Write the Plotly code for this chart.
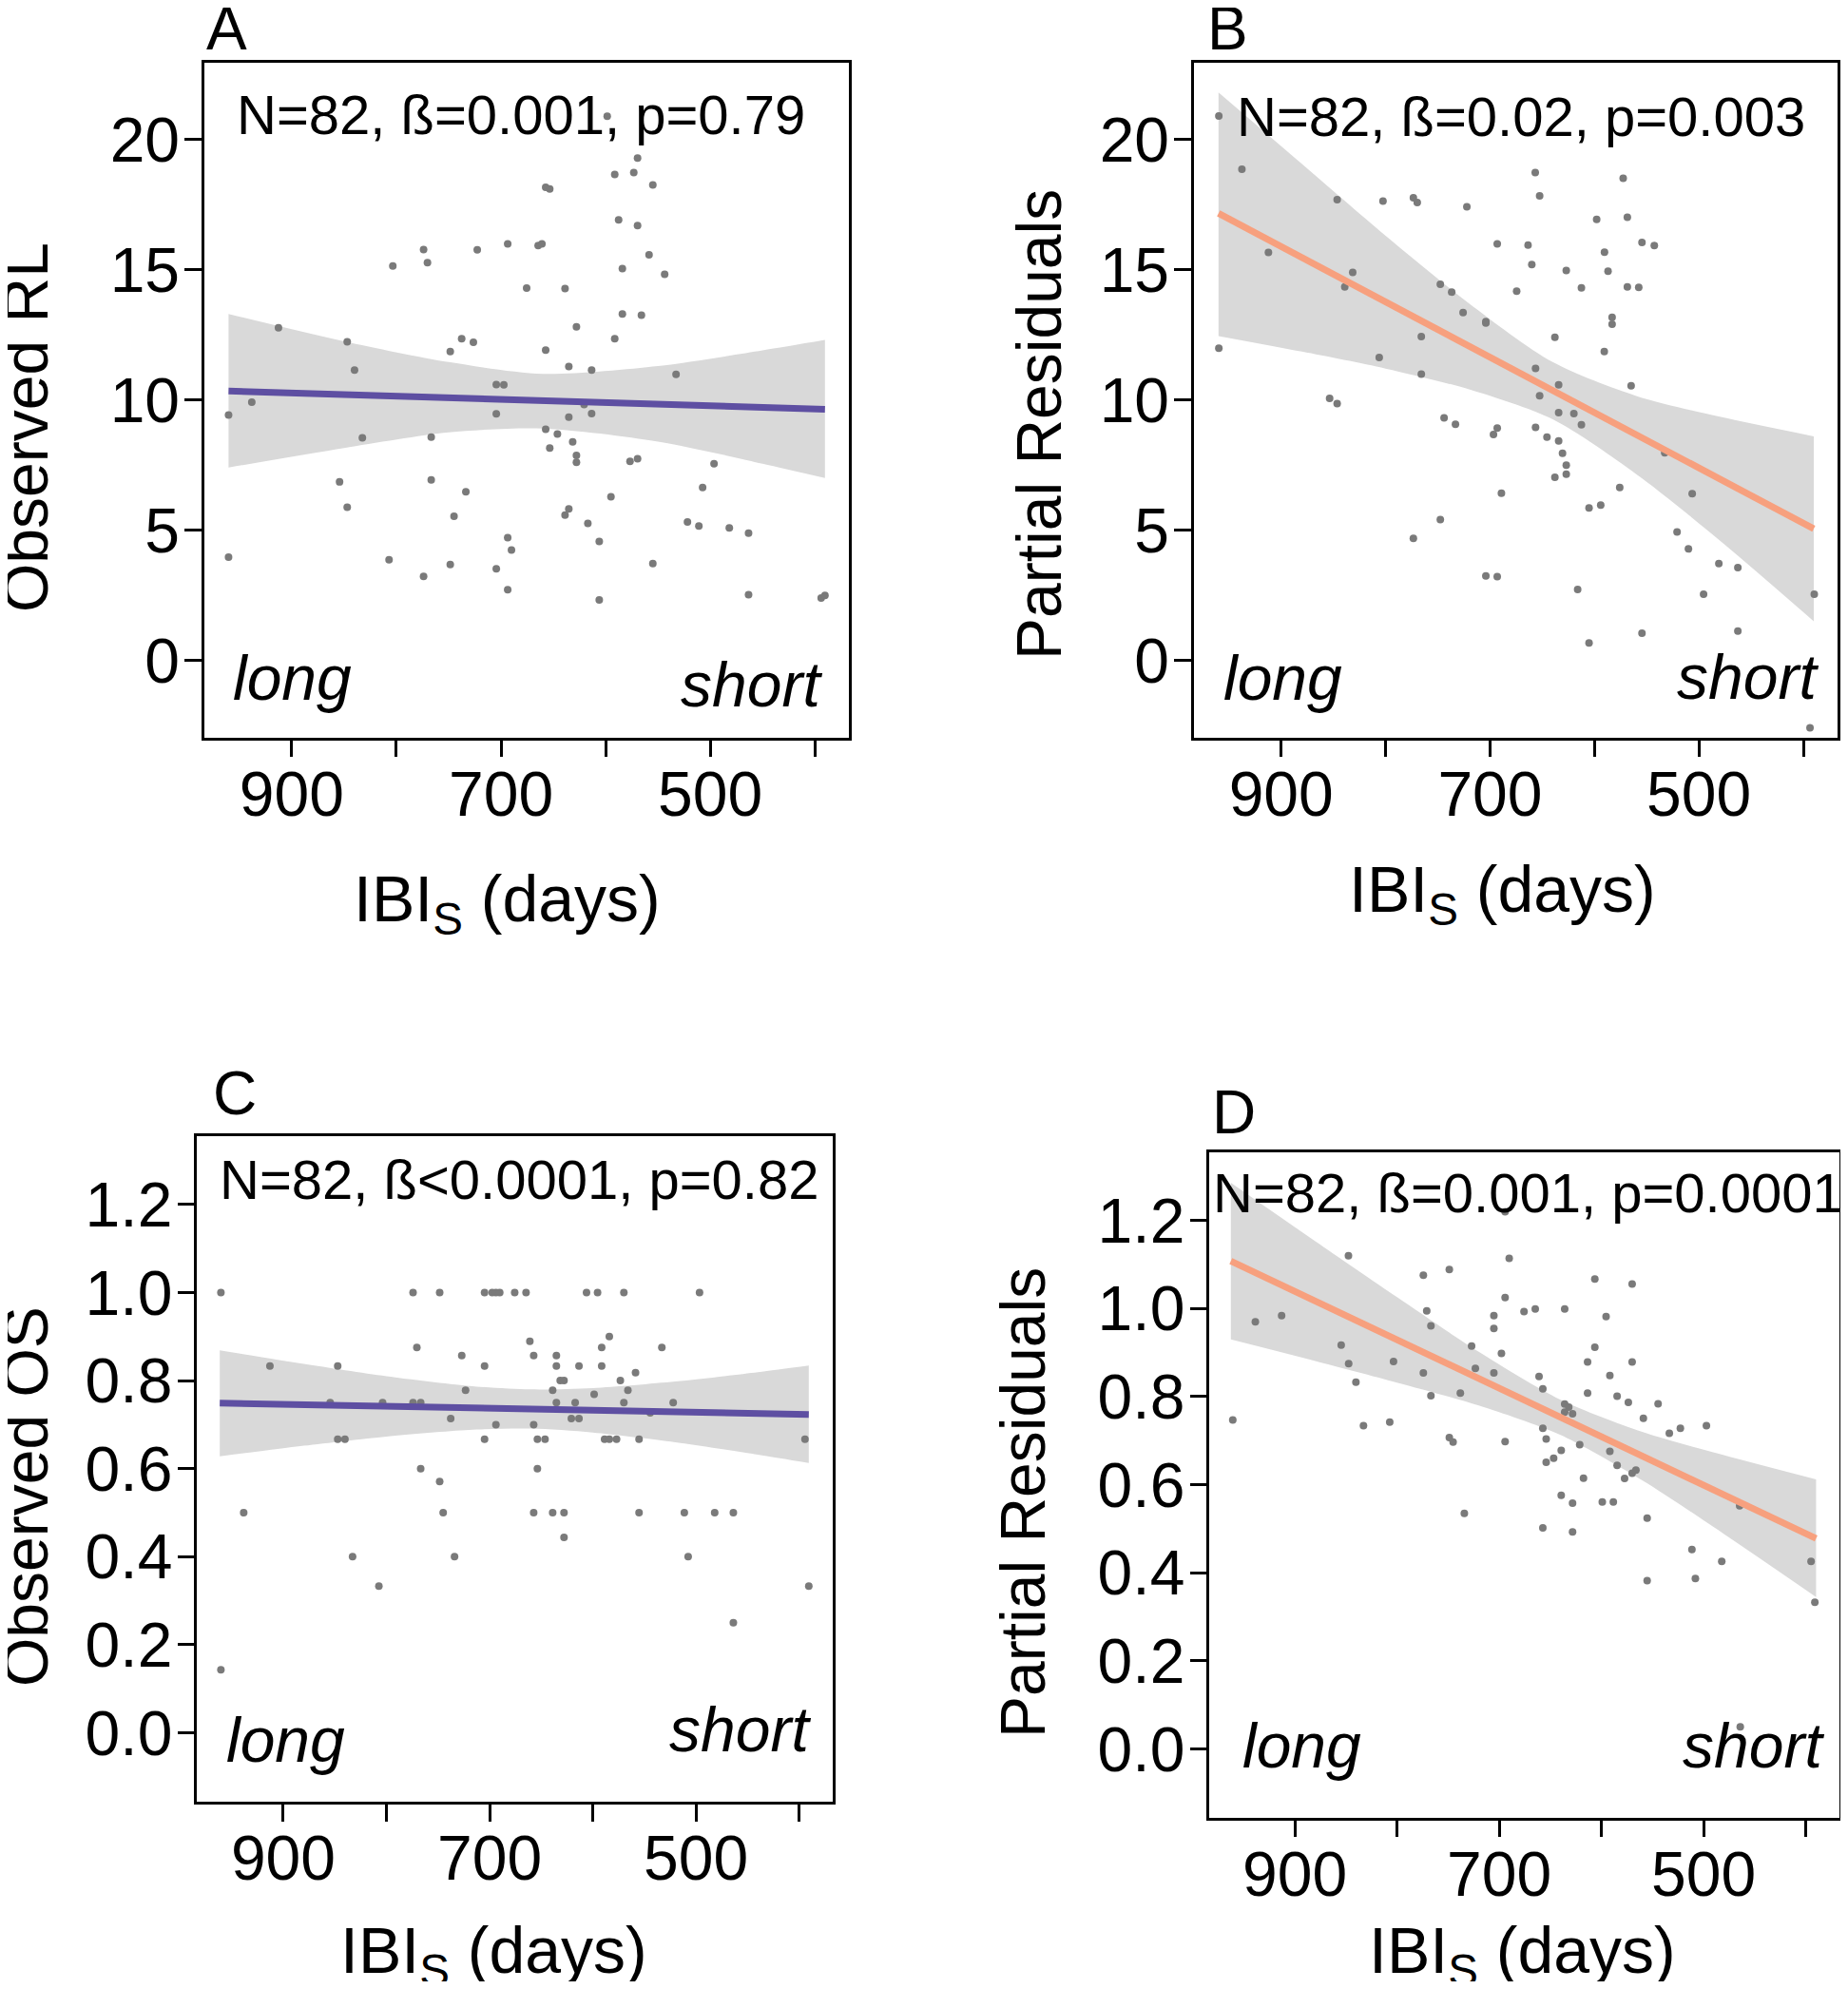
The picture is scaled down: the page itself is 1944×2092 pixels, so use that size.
import plotly.graph_objects as go

W, H = 1944, 2092
OFF = 8  # default page margin of the html body

# ---------------- data ----------------
# Panel A: observed RL vs IBI_S
A_x = [774.0, 722.7, 693.6, 803.4, 770.3, 675.5, 912.7, 847.0, 737.6, 726.4, 748.5, 840.0,
       704.5, 697.3, 938.2, 960.4, 704.5, 832.5, 766.7, 854.3, 766.7, 733.6, 847.0, 744.9,
       693.6, 690.0, 960.4, 807.0, 748.5, 774.0, 704.5, 693.6,
       598.5, 569.5, 591.3, 573.1, 554.9, 657.3, 653.4, 587.6, 569.5, 664.5, 660.9, 558.5,
       584.0, 543.6, 638.8, 584.0, 565.8, 627.9, 591.3, 657.3, 635.2, 613.4, 532.7, 635.2,
       613.4, 657.3, 646.1, 631.5, 653.4, 627.9, 627.9, 576.7, 569.5, 496.4, 507.3, 594.9,
       635.2, 638.8, 617.0, 521.8, 510.9, 481.8, 463.4, 606.1, 554.9, 606.1, 463.4, 394.0,
       390.4, 620.6]
A_y = [15.77, 15.76, 15.99, 15.14, 15.27, 14.29, 12.77, 12.23, 12.35, 12.21, 11.85, 11.14,
       10.59, 10.58, 9.91, 9.42, 9.46, 8.54, 8.57, 6.85, 6.93, 6.47, 5.88, 5.53,
       4.71, 4.23, 3.96, 3.86, 3.68, 3.22, 3.51, 2.71,
       20.89, 19.28, 18.65, 18.73, 18.25, 18.16, 18.10, 16.91, 16.69, 15.92, 15.99, 15.57,
       15.04, 14.82, 14.27, 13.30, 13.25, 12.80, 12.35, 11.91, 11.28, 11.14, 10.98, 9.34,
       9.47, 8.87, 8.69, 8.39, 8.15, 7.87, 7.60, 7.64, 7.74, 7.55, 6.63, 6.28,
       5.81, 5.58, 5.26, 5.31, 5.16, 5.08, 4.88, 4.56, 3.71, 2.32, 2.52, 2.39,
       2.49, 9.82]
A_fit_x = [960.4, 390.4]
A_fit_y = [10.34, 9.64]
A_band_x = [960.4, 850, 750, 660, 550, 450, 390.4]
A_band_hi = [13.3, 12.25, 11.45, 11.0, 11.3, 11.9, 12.3]
A_band_lo = [7.4, 8.15, 8.75, 8.9, 8.4, 7.55, 7.0]

# Panel B: partial residuals (RL)
B_x = [959.7, 937.6, 846.4, 802.5, 773.4, 769.7, 722.2, 693.1, 912.2, 831.5, 839.1, 747.6,
       736.7, 674.5, 725.8, 704.0, 704.0, 765.8, 959.7, 806.1, 765.8, 853.6, 846.4, 744.0,
       733.1, 693.1, 696.7, 689.1, 747.6, 773.4, 704.0, 693.1,
       656.7, 572.5, 652.5, 597.9, 568.5, 663.6, 554.5, 542.7, 590.4, 660.0, 627.0, 587.0,
       612.5, 568.5, 557.6, 583.1, 583.1, 637.9, 590.6, 656.4, 634.3, 564.9, 652.5, 634.3,
       619.7, 612.5, 656.4, 645.5, 634.3, 630.6, 627.0, 627.0, 637.9, 532.7, 575.8, 506.4,
       605.2, 594.0, 520.9, 510.0, 480.9, 462.7, 616.1, 495.5, 389.5, 605.2, 554.5, 462.7,
       393.6]
B_y = [20.90, 18.85, 17.69, 17.63, 17.76, 17.58, 17.41, 15.99, 15.66, 14.89, 14.34, 14.44,
       14.14, 14.17, 13.35, 13.00, 12.95, 12.43, 11.98, 11.63, 10.99, 10.06, 9.86, 9.31,
       9.06, 8.92, 8.67, 6.42, 5.40, 4.68, 3.24, 3.21,
       18.73, 18.51, 17.83, 16.93, 17.01, 15.94, 16.04, 15.92, 15.67, 15.19, 14.97, 14.94,
       14.30, 14.34, 14.32, 13.17, 12.90, 12.40, 11.85, 11.21, 10.58, 10.54, 10.16, 9.51,
       9.47, 9.04, 8.94, 8.57, 8.42, 7.95, 7.49, 7.15, 7.03, 7.97, 6.63, 6.40,
       5.85, 5.96, 4.93, 4.28, 3.71, 3.56, 2.72, 2.54, 2.54, 0.67, 1.04, 1.12,
       -2.59]
B_fit_x = [960.0, 390.0]
B_fit_y = [17.16, 5.05]
B_band_x = [960, 880, 800, 720, 640, 560, 480, 390]
B_band_hi = [21.8, 19.05, 16.3, 13.7, 11.45, 10.15, 9.35, 8.6]
B_band_lo = [12.45, 11.85, 11.2, 10.4, 9.25, 7.15, 4.6, 1.5]

# Panel C: observed OS
C_x = [960.4, 774.2, 748.4, 704.9, 697.5, 693.9, 690.2, 675.7, 770.5, 727.0, 912.9, 847.2,
       704.9, 723.3, 854.5, 803.7, 774.2, 766.8, 737.7, 693.9, 847.2, 840.2, 704.9, 766.8,
       748.4, 938.3, 745.0, 832.8, 734.0, 807.3, 960.4,
       664.7, 606.1, 595.4, 569.9, 496.6, 584.0, 661.0, 591.4, 533.1, 657.3, 635.3, 635.3,
       613.4, 591.4, 558.6, 631.6, 627.9, 573.3, 638.9, 566.0, 598.7, 635.3, 617.1, 569.9,
       522.1, 544.4, 620.8, 613.4, 657.3, 653.7, 646.3, 588.6, 584.0, 577.0, 555.2, 394.4,
       653.7, 657.3, 638.9, 627.9, 555.2, 511.3, 481.9, 463.8, 627.9, 507.6, 390.7, 463.8]
C_y = [1.0, 1.0, 1.0, 1.0, 1.0, 1.0, 1.0, 1.0, 0.875, 0.857, 0.833, 0.833,
       0.833, 0.778, 0.75, 0.75, 0.75, 0.75, 0.714, 0.70, 0.667, 0.667, 0.667, 0.60,
       0.571, 0.5, 0.5, 0.4, 0.4, 0.333, 0.143,
       1.0, 1.0, 1.0, 1.0, 1.0, 0.9, 0.889, 0.875, 0.875, 0.857, 0.857, 0.833,
       0.833, 0.833, 0.818, 0.8, 0.8, 0.8, 0.778, 0.778, 0.769, 0.75, 0.75, 0.75,
       0.75, 0.727, 0.714, 0.714, 0.70, 0.667, 0.667, 0.667, 0.667, 0.667, 0.667, 0.667,
       0.6, 0.5, 0.5, 0.5, 0.5, 0.5, 0.5, 0.5, 0.444, 0.4, 0.333, 0.25]
C_fit_x = [961.5, 390.7]
C_fit_y = [0.749, 0.723]
C_band_x = [961.5, 880, 800, 720, 660, 600, 520, 440, 390.7]
C_band_hi = [0.869, 0.838, 0.810, 0.788, 0.780, 0.783, 0.798, 0.819, 0.834]
C_band_lo = [0.628, 0.652, 0.673, 0.688, 0.691, 0.682, 0.660, 0.632, 0.613]

# Panel D: partial residuals (OS)
D_x = [694.2, 847.5, 690.2, 774.2, 748.8, 694.2, 770.9, 675.7, 938.6, 912.9, 705.2, 705.2,
       766.8, 854.6, 727.0, 697.8, 847.3, 803.4, 723.3, 705.2, 774.2, 840.2, 738.0, 766.8,
       960.7, 832.8, 807.1, 748.8, 745.1, 694.2, 734.1,
       606.4, 569.9, 664.7, 635.9, 595.4, 606.4, 613.5, 569.9, 661.0, 591.7, 657.3, 613.5,
       584.6, 573.6, 544.5, 635.9, 631.9, 635.9, 628.2, 558.9, 657.3, 654.0, 621.2, 533.5,
       522.7, 497.2, 639.3, 646.7, 654.0, 591.7, 584.6, 577.3, 569.9, 566.2, 617.5, 639.3,
       628.2, 599.1, 588.3, 555.2, 657.3, 628.2, 464.7, 511.4, 482.2, 508.0, 555.2, 394.8,
       391.1, 464.1]
D_y = [1.220, 1.120, 1.114, 1.076, 1.089, 1.025, 0.995, 0.993, 0.970, 0.984, 0.984, 0.955,
       0.961, 0.917, 0.915, 0.898, 0.875, 0.880, 0.864, 0.854, 0.854, 0.833, 0.808, 0.802,
       0.747, 0.734, 0.742, 0.707, 0.697, 0.698, 0.535,
       1.067, 1.056, 0.999, 0.999, 0.982, 0.912, 0.879, 0.879, 0.846, 0.848, 0.818, 0.808,
       0.801, 0.787, 0.784, 0.783, 0.776, 0.765, 0.761, 0.751, 0.728, 0.704, 0.691, 0.717,
       0.728, 0.734, 0.678, 0.660, 0.651, 0.676, 0.644, 0.614, 0.626, 0.633, 0.615, 0.576,
       0.558, 0.561, 0.561, 0.524, 0.502, 0.493, 0.552, 0.453, 0.426, 0.387, 0.382, 0.426,
       0.333, 0.050]
D_fit_x = [962.6, 389.9]
D_fit_y = [1.108, 0.478]
D_band_x = [962.6, 880, 800, 720, 640, 560, 480, 389.9]
D_band_hi = [1.286, 1.153, 1.026, 0.902, 0.793, 0.720, 0.667, 0.612]
D_band_lo = [0.930, 0.881, 0.832, 0.780, 0.713, 0.610, 0.488, 0.345]

x_major_ticks = [900, 700, 500]
x_minor_ticks = [800, 600, 400]
rl_ticks = [0, 5, 10, 15, 20]
os_ticks = [0.0, 0.2, 0.4, 0.6, 0.8, 1.0, 1.2]

panel_letters = ["A", "B", "C", "D"]
y_titles = ["Observed RL", "Partial Residuals", "Observed OS", "Partial Residuals"]
stats_text = ["N=82, ß=0.001, p=0.79", "N=82, ß=0.02, p=0.003",
              "N=82, ß<0.0001, p=0.82", "N=82, ß=0.001, p=0.0001"]
x_title = "IBI<sub>S</sub> (days)"

# ---------------- styling ----------------
BLUE = "#5E4FA2"
SALMON = "#F7A07E"
PT = "#7A7A7A"
BAND = "#D9D9D9"
SANS = "Liberation Sans, Arial, Helvetica, sans-serif"

FW, FH = W - 2 * OFF, H - 2 * OFF

def clamp(v):
    return max(0.0, min(1.0, v))

def px(x):
    return (x - OFF) / FW

def py(y):
    return 1 - (y - OFF) / FH

panels = [
    dict(x=A_x, y=A_y, fx=A_fit_x, fy=A_fit_y, bx=A_band_x, bh=A_band_hi, bl=A_band_lo,
         col=BLUE, xd=[215, 893], yd=[65.5, 775.6], yr=[-2.96, 22.96], yt=rl_ticks, fmt=""),
    dict(x=B_x, y=B_y, fx=B_fit_x, fy=B_fit_y, bx=B_band_x, bh=B_band_hi, bl=B_band_lo,
         col=SALMON, xd=[1256, 1932.7], yd=[65.5, 775.6], yr=[-2.96, 22.96], yt=rl_ticks, fmt=""),
    dict(x=C_x, y=C_y, fx=C_fit_x, fy=C_fit_y, bx=C_band_x, bh=C_band_hi, bl=C_band_lo,
         col=BLUE, xd=[207.3, 876], yd=[1194.6, 1894.8], yr=[-0.156, 1.356], yt=os_ticks, fmt=".1f"),
    dict(x=D_x, y=D_y, fx=D_fit_x, fy=D_fit_y, bx=D_band_x, bh=D_band_hi, bl=D_band_lo,
         col=SALMON, xd=[1272.3, 1934.5], yd=[1211.5, 1911.7], yr=[-0.156, 1.356], yt=os_ticks, fmt=".1f"),
]

fig = go.Figure()
layout = dict(width=FW, height=FH, margin=dict(l=0, r=0, t=0, b=0), autosize=False,
              paper_bgcolor="white", plot_bgcolor="white", showlegend=False,
              font=dict(family=SANS, color="black"))

for i, p in enumerate(panels):
    n = "" if i == 0 else str(i + 1)
    xa, ya = "x" + n, "y" + n
    # confidence band
    fig.add_trace(go.Scatter(x=p["bx"], y=p["bl"], xaxis=xa, yaxis=ya, mode="lines",
                             line=dict(width=0, shape="spline", smoothing=0.8),
                             hoverinfo="skip"))
    fig.add_trace(go.Scatter(x=p["bx"], y=p["bh"], xaxis=xa, yaxis=ya, mode="lines",
                             line=dict(width=0, shape="spline", smoothing=0.8),
                             fill="tonexty", fillcolor=BAND, hoverinfo="skip"))
    # points
    fig.add_trace(go.Scatter(x=p["x"], y=p["y"], xaxis=xa, yaxis=ya, mode="markers",
                             marker=dict(size=8, color=PT, line=dict(width=0))))
    # fitted line
    fig.add_trace(go.Scatter(x=p["fx"], y=p["fy"], xaxis=xa, yaxis=ya, mode="lines",
                             line=dict(color=p["col"], width=7)))
    layout["xaxis" + n] = dict(
        domain=[clamp(px(p["xd"][0])), clamp(px(p["xd"][1]))], anchor=ya, range=[983.5, 367.5],
        tickmode="array", tickvals=x_major_ticks,
        ticks="outside", ticklen=18, tickwidth=2.5, tickcolor="black",
        minor=dict(tickmode="array", tickvals=x_minor_ticks, ticks="outside",
                   ticklen=18, tickwidth=2.5, tickcolor="black", showgrid=False),
        tickfont=dict(family=SANS, size=66, color="black"), ticklabelstandoff=-18,
        showline=True, linecolor="black", linewidth=2.5, mirror=True,
        showgrid=False, zeroline=False, automargin=False)
    layout["yaxis" + n] = dict(
        domain=[clamp(py(p["yd"][1])), clamp(py(p["yd"][0]))], anchor=xa, range=p["yr"],
        tickmode="array", tickvals=p["yt"], tickformat=p["fmt"],
        ticks="outside", ticklen=18, tickwidth=2.5, tickcolor="black",
        tickfont=dict(family=SANS, size=66, color="black"), ticklabelstandoff=-8,
        showline=True, linecolor="black", linewidth=2.5, mirror=True,
        showgrid=False, zeroline=False, automargin=False)

ann = []
def add(text, x, y, xa="center", ya="middle", size=64, angle=0):
    ann.append(dict(text=text, x=px(x), y=py(y), xref="paper", yref="paper",
                    xanchor=xa, yanchor=ya, showarrow=False, textangle=angle,
                    font=dict(family=SANS, size=size, color="black")))

# panel letters
for t, (x, y) in zip(panel_letters, [(215, 30), (1268, 30), (222, 1150), (1273, 1170)]):
    add(t, x, y, xa="left", size=64)
# stats
for t, (x, y) in zip(stats_text, [(547.7, 120), (1599.7, 122.7), (545.6, 1240.7), (1607, 1254)]):
    add(t, x, y, size=58)
# long / short
for (x, y) in [(242.8, 713), (1285, 713), (236, 1830), (1305, 1836)]:
    add("<i>long</i>", x, y, xa="left", size=66)
for (x, y) in [(867, 720), (1914.5, 712), (855, 1819), (1921, 1836)]:
    add("<i>short</i>", x, y, xa="right", size=66)
# y titles
for t, (x, y) in zip(y_titles, [(27, 450), (1093, 447), (27, 1574), (1076, 1581)]):
    add(t, x, y, size=66, angle=-90)
# x titles
for (x, y) in [(533, 950), (1580, 940), (519, 2056), (1601, 2056)]:
    add(x_title, x, y, size=68)

layout["annotations"] = ann
fig.update_layout(**layout)
fig.write_html("out.html")
